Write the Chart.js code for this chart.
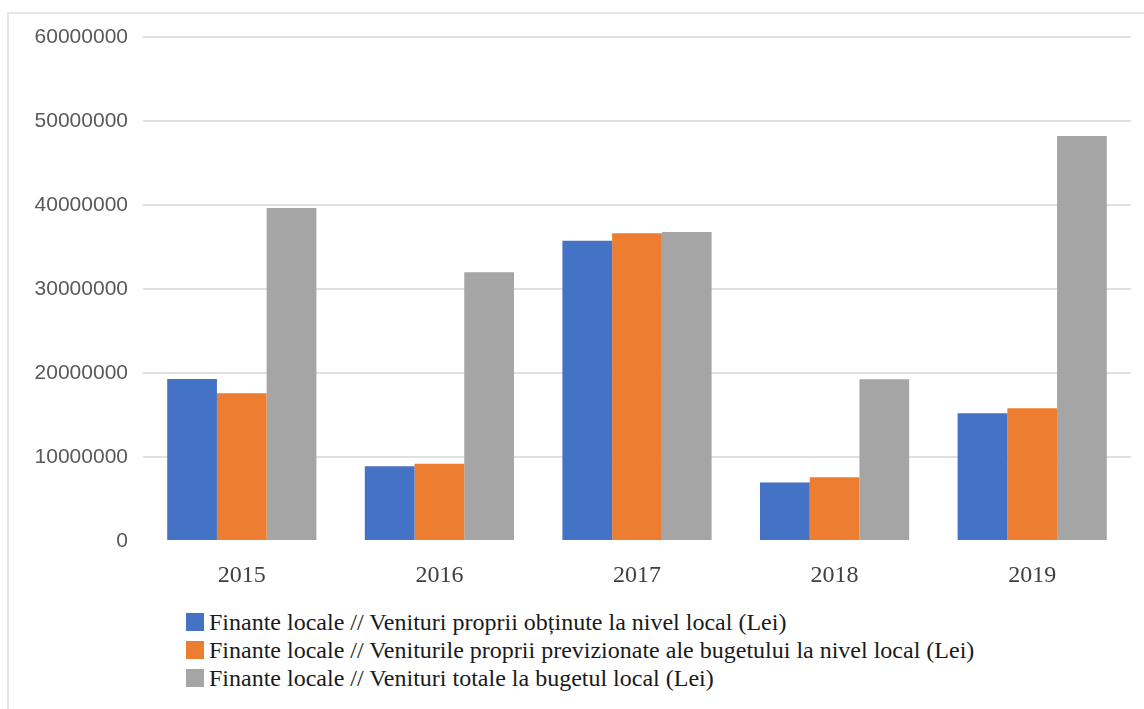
<!DOCTYPE html>
<html>
<head>
<meta charset="utf-8">
<script src="https://cdn.jsdelivr.net/npm/chart.js@4"></script>
<style>
    body { margin: 0; background: #fff; }
    #frame {
        position: absolute; left: 7px; top: 12px; width: 1137px; height: 697px;
        border-top: 2px solid #e6e6e6; border-left: 2px solid #e6e6e6;
    }
    #wrap { position: absolute; left: 0; top: 0; width: 1144px; height: 600px; }
    #legend {
        position: absolute; left: 186px; top: 608px;
        font-family: "Liberation Serif", "Times New Roman", serif;
        font-size: 24px; color: #1a1a1a;
    }
    .legend-row { display: flex; align-items: center; height: 28px; }
    .legend-box { width: 18px; height: 18px; margin-right: 5px; }
</style>
</head>
<body>
<div id="frame"></div>
<div id="wrap"><canvas id="chart" width="1144" height="600"></canvas></div>
<div id="legend"></div>
<script>
const years = ['2015', '2016', '2017', '2018', '2019'];

const seriesNames = [
    'Finante locale // Venituri proprii obținute la nivel local (Lei)',
    'Finante locale // Veniturile proprii previzionate ale bugetului la nivel local (Lei)',
    'Finante locale // Venituri totale la bugetul local (Lei)'
];

// values (Lei)
const venituriProprii = [19300000, 8900000, 35750000, 6950000, 15200000];
const venituriPrevizionate = [17600000, 9200000, 36650000, 7600000, 15800000];
const venituriTotale = [39650000, 32000000, 36800000, 19250000, 48200000];

const yTicks = [0, 10000000, 20000000, 30000000, 40000000, 50000000, 60000000];

const colors = ['#4472C4', '#ED7D31', '#A5A5A5'];

const ctx = document.getElementById('chart').getContext('2d');

const chart = new Chart(ctx, {
    type: 'bar',
    data: {
        labels: years,
        datasets: [venituriProprii, venituriPrevizionate, venituriTotale].map((values, i) => ({
            label: seriesNames[i],
            data: values,
            backgroundColor: colors[i],
            borderWidth: 0,
            barPercentage: 1.0,
            categoryPercentage: 0.755
        }))
    },
    options: {
        responsive: false,
        animation: false,
        layout: { padding: { left: 8, right: 13, top: 37, bottom: 0 } },
        plugins: {
            legend: { display: false },
            tooltip: { enabled: false }
        },
        scales: {
            x: {
                grid: { display: false },
                border: { display: false },
                ticks: {
                    padding: 12,
                    color: '#404040',
                    font: { family: '"Liberation Serif", "Times New Roman", serif', size: 24 }
                },
                afterFit: function(scale) { scale.height = 59; }
            },
            y: {
                min: 0,
                max: yTicks[yTicks.length - 1],
                afterBuildTicks: function(scale) {
                    scale.ticks = yTicks.map(v => ({ value: v }));
                },
                grid: {
                    drawTicks: false,
                    lineWidth: 2,
                    color: c => c.tick && c.tick.value === 0 ? 'rgba(0,0,0,0)' : '#e0e0e0'
                },
                border: { display: false },
                ticks: {
                    padding: 15,
                    color: '#595959',
                    font: { family: '"Liberation Sans", Arial, sans-serif', size: 21 },
                    callback: value => String(value)
                },
                afterFit: function(scale) { scale.width = 135; }
            }
        }
    }
});

// legend as a vertical list under the plot, like the original
const legendDiv = document.getElementById('legend');
chart.data.datasets.forEach(ds => {
    const row = document.createElement('div');
    row.className = 'legend-row';
    row.innerHTML = `<div class="legend-box" style="background:${ds.backgroundColor}"></div><span>${ds.label}</span>`;
    legendDiv.appendChild(row);
});
</script>
</body>
</html>
